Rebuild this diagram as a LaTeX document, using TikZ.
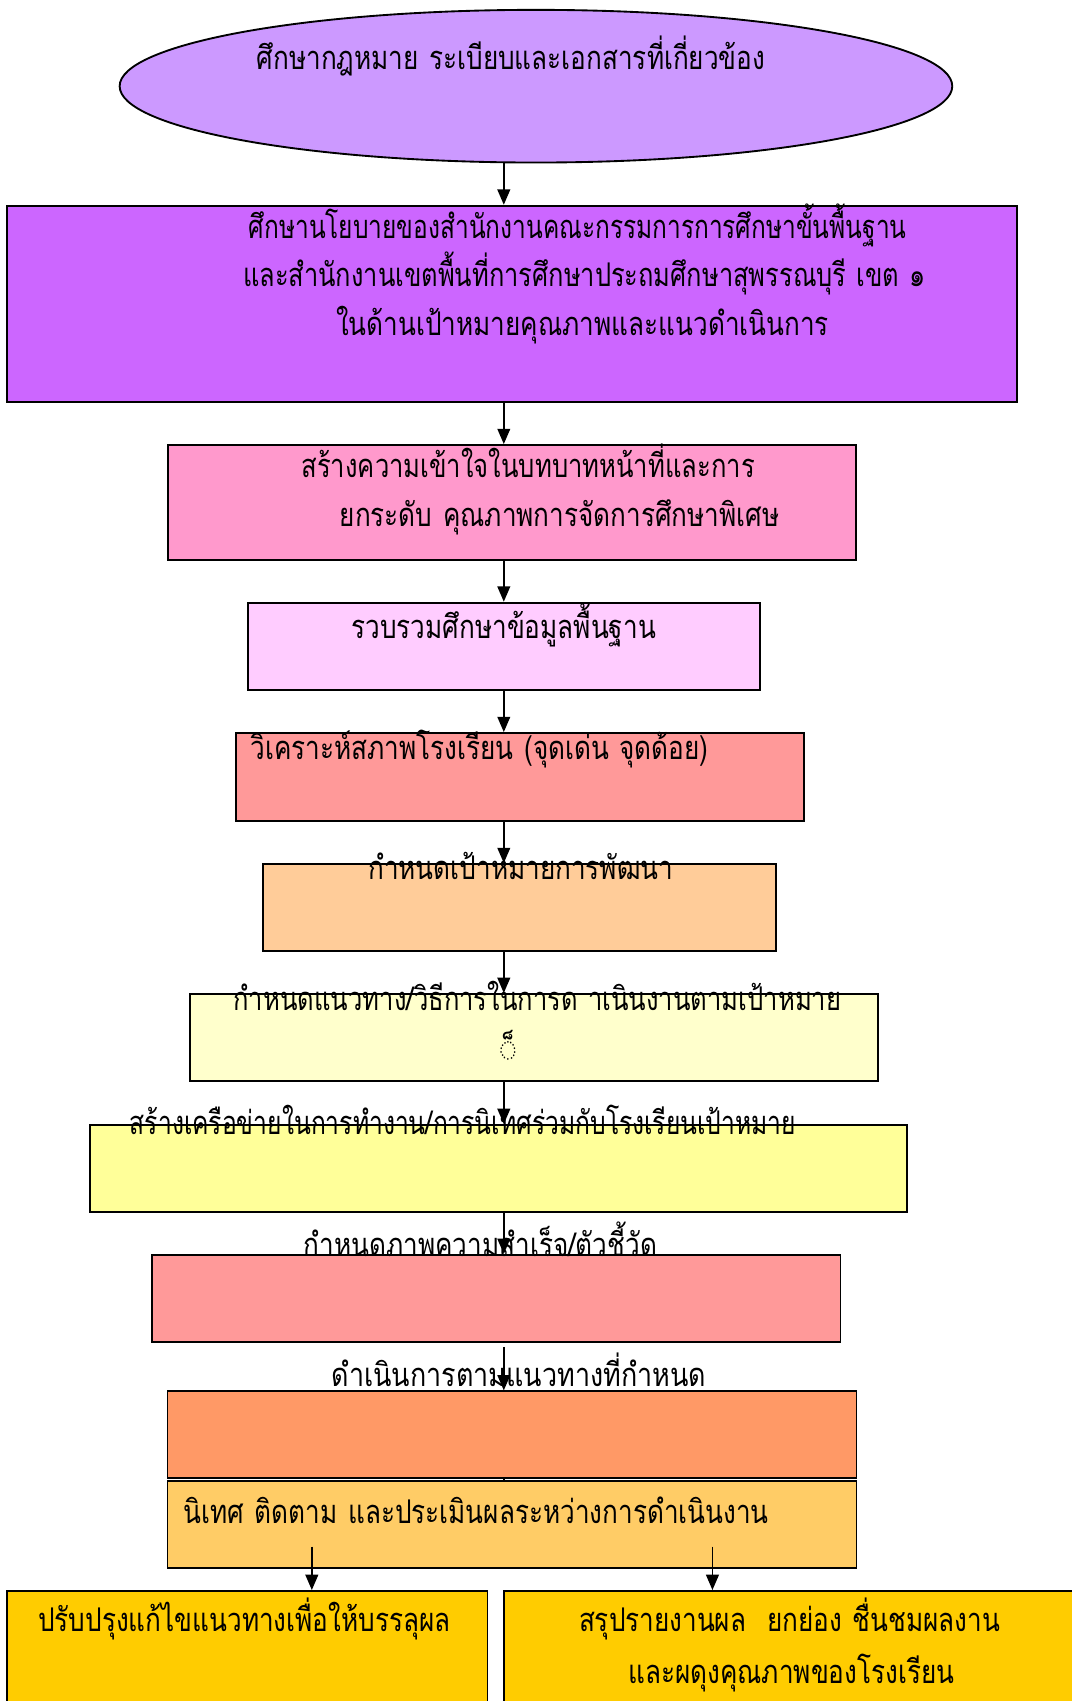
\documentclass[tikz,border=0pt]{standalone}
\usepackage{fontspec}
\newfontfamily\thaifont[Script=Thai,FakeStretch=0.8,WordSpace=1.2]{Loma}
\usetikzlibrary{shapes.geometric,arrows.meta}
\def\U{0.8121pt}
\definecolor{cEll}{HTML}{CC99FF}
\definecolor{cB2}{HTML}{CC66FF}
\definecolor{cB3}{HTML}{FF99CC}
\definecolor{cB4}{HTML}{FFCCFF}
\definecolor{cB5}{HTML}{FF9999}
\definecolor{cB6}{HTML}{FFCC99}
\definecolor{cB7}{HTML}{FFFFCC}
\definecolor{cB8}{HTML}{FFFF99}
\definecolor{cB10}{HTML}{FF9966}
\definecolor{cB11}{HTML}{FFCC66}
\definecolor{cB12}{HTML}{FFCC00}
\tikzset{
  box/.style={draw=black, line width=1.4pt, rectangle, inner sep=0pt},
  ellbox/.style={draw=black, line width=1.4pt, ellipse, inner sep=0pt},
  lbl/.style={anchor=base, inner sep=0pt, font=\thaifont\fontsize{24.5}{28}\selectfont},
  arr/.style={line width=1.4pt, -{Triangle[length=11.5pt,width=9.5pt]}},
  plain/.style={line width=1.4pt}
}
\begin{document}
\begin{tikzpicture}[x=0.8121pt, y=-0.8121pt]
\useasboundingbox (0,0) rectangle (990,1571);
\clip (0,0) rectangle (990,1571);
\fill[white] (0,0) rectangle (990,1571);
% shapes
\node[ellbox, fill=cEll, minimum width={769*\U}, minimum height={141*\U}] (ell) at (495,79.6) {};
\node[box, fill=cB2, minimum width={933.2*\U}, minimum height={181*\U}] (b2) at (472.9,280.5) {};
\node[box, fill=cB3, minimum width={635.8*\U}, minimum height={106*\U}] (b3) at (472.8,464) {};
\node[box, fill=cB4, minimum width={472.9*\U}, minimum height={80.6*\U}] (b4) at (465.35,596.9) {};
\node[box, fill=cB5, minimum width={524.5*\U}, minimum height={81*\U}] (b5) at (480.25,717.5) {};
\node[box, fill=cB6, minimum width={473.7*\U}, minimum height={80*\U}] (b6) at (479.85,838) {};
\node[box, fill=cB7, minimum width={635.8*\U}, minimum height={80*\U}] (b7) at (493.1,958) {};
\node[box, fill=cB8, minimum width={754.5*\U}, minimum height={80*\U}] (b8) at (460.15,1079) {};
\node[box, fill=cB5, minimum width={635.8*\U}, minimum height={80.7*\U}] (b9) at (458.4,1199.35) {};
\node[box, fill=cB10, minimum width={636.3*\U}, minimum height={80*\U}] (b10) at (472.85,1325) {};
\node[box, fill=cB11, minimum width={636.3*\U}, minimum height={80.6*\U}] (b11) at (472.85,1408.1) {};
\node[box, fill=cB12, minimum width={443.9*\U}, minimum height={150.6*\U}] (b12) at (228.25,1544.7) {};
\node[box, fill=cB12, minimum width={574.7*\U}, minimum height={150.6*\U}] (b13) at (752.65,1544.7) {};
% texts
\node[lbl] (t1) at (472,64.6) {ศึกษากฎหมาย ระเบียบและเอกสารที่เกี่ยวข้อง};
\node[lbl] (t2a) at (533.5,220.1) {\scalebox{0.937}[1]{ศึกษานโยบายของสำนักงานคณะกรรมการการศึกษาขั้นพื้นฐาน}};
\node[lbl] (t2b) at (539.8,264.8) {\scalebox{0.974}[1]{และสำนักงานเขตพื้นที่การศึกษาประถมศึกษาสุพรรณบุรี เขต ๑}};
\node[lbl] (t2c) at (538,309.4) {ในด้านเป้าหมายคุณภาพและแนวดำเนินการ};
\node[lbl] (t3a) at (487.8,441.4) {\scalebox{0.98}[1]{สร้างความเข้าใจในบทบาทหน้าที่และการ}};
\node[lbl] (t3b) at (516.9,485.8) {ยกระดับ คุณภาพการจัดการศึกษาพิเศษ};
\node[lbl] (t4) at (465.2,589.5) {รวบรวมศึกษาข้อมูลพื้นฐาน};
\node[lbl] (t5) at (443,701.9) {วิเคราะห์สภาพโรงเรียน (จุดเด่น จุดด้อย)};
\node[lbl] (t6) at (481,812.7) {กำหนดเป้าหมายการพัฒนา};
\node[lbl] (t7) at (496.3,932.8) {\scalebox{0.98}[1]{กำหนดแนวทาง/วิธีการในการด าเนินงานตามเป้าหมาย}};
\node[lbl] (t7b) at (469.8,979) {◌็};
\node[lbl] (t8) at (427.6,1048.2) {\scalebox{0.943}[1]{สร้างเครือข่ายในการทำงาน/การนิเทศร่วมกับโรงเรียนเป้าหมาย}};
\node[lbl] (t9) at (443.6,1160.6) {กำหนดภาพความสำเร็จ/ตัวชี้วัด};
\node[lbl] (t10) at (479.3,1280.6) {\scalebox{1.03}[1]{ดำเนินการตามแนวทางที่กำหนด}};
\node[lbl] (t11) at (439.8,1406.8) {นิเทศ ติดตาม และประเมินผลระหว่างการดำเนินงาน};
\node[lbl] (t12) at (225.7,1506.9) {ปรับปรุงแก้ไขแนวทางเพื่อให้บรรลุผล};
\node[lbl] (t13a) at (729.2,1506.9) {สรุปรายงานผล\ \ ยกย่อง ชื่นชมผลงาน};
\node[lbl] (t13b) at (730.8,1554.6) {และผดุงคุณภาพของโรงเรียน};
% connectors
\coordinate (ax) at (465.3,0);
\coordinate (s9) at (465.3,1244);
\coordinate (sl) at (288,1428.4);
\coordinate (sr) at (658,1428.4);
\draw[arr] (ax |- ell.south) -- (ax |- b2.north);
\draw[arr] (ax |- b2.south) -- (ax |- b3.north);
\draw[arr] (ax |- b3.south) -- (ax |- b4.north);
\draw[arr] (ax |- b4.south) -- (ax |- b5.north);
\draw[arr] (ax |- b5.south) -- (ax |- b6.north);
\draw[arr] (ax |- b6.south) -- (ax |- b7.north);
\draw[arr] (ax |- b7.south) -- (ax |- b8.north);
\draw[arr] (ax |- b8.south) -- (ax |- b9.north);
\draw[arr] (s9) -- (ax |- b10.north);
\draw[plain] (ax |- b10.south) -- (ax |- b11.north);
\draw[arr] (sl) -- (sl |- b12.north);
\draw[arr] (sr) -- (sr |- b13.north);
\end{tikzpicture}
\end{document}
